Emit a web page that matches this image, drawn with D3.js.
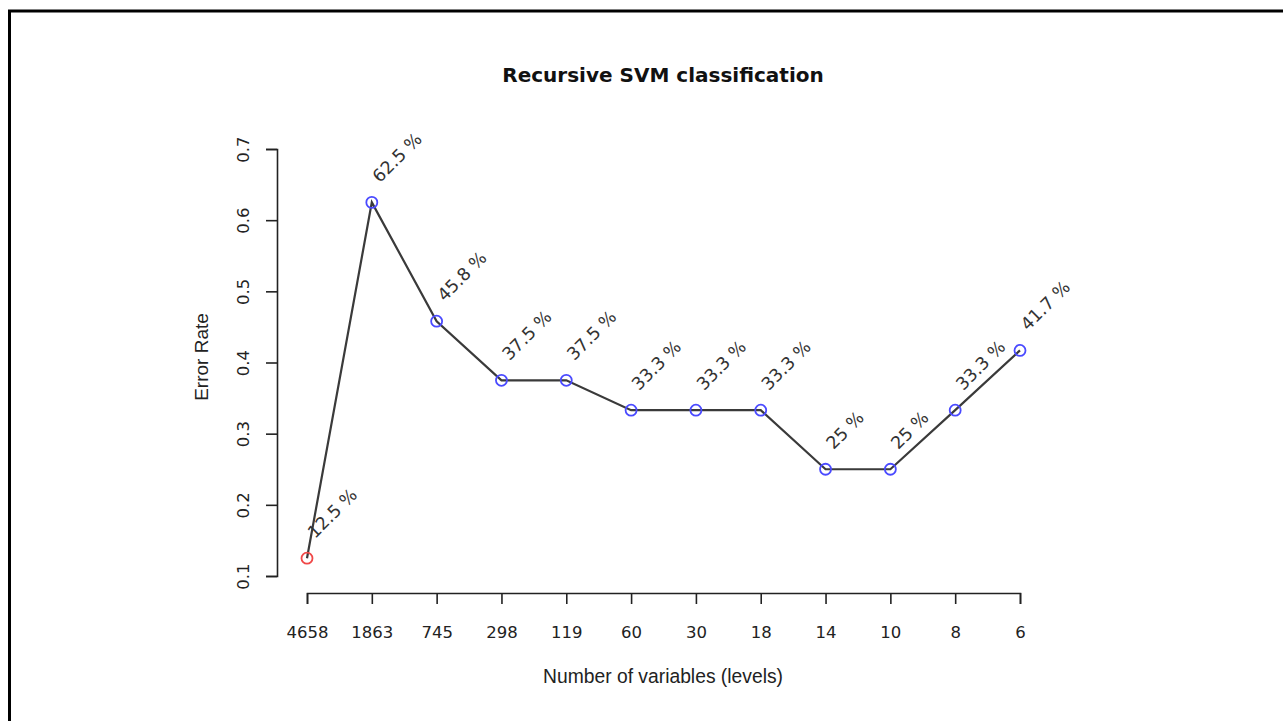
<!DOCTYPE html>
<html>
<head>
<meta charset="utf-8">
<script src="https://cdn.jsdelivr.net/npm/d3@7"></script>
<style>
  body { margin: 0; background: #fff; }
  .axis text { font-family: "DejaVu Sans", sans-serif; font-size: 16.5px; fill: #222; }
  .axis path, .axis line { stroke: #222; stroke-width: 1.6px; }
</style>
</head>
<body>
<div id="chart"></div>
<script>
// data
var levels = ["4658", "1863", "745", "298", "119", "60", "30", "18", "14", "10", "8", "6"];
var errorRate = [0.125, 0.625, 0.458, 0.375, 0.375, 0.333, 0.333, 0.333, 0.25, 0.25, 0.333, 0.417];
var pctLabels = ["12.5 %", "62.5 %", "45.8 %", "37.5 %", "37.5 %", "33.3 %", "33.3 %", "33.3 %", "25 %", "25 %", "33.3 %", "41.7 %"];
var yTicks = [0.1, 0.2, 0.3, 0.4, 0.5, 0.6, 0.7];

var width = 1283, height = 721;

var svg = d3.select("#chart").append("svg")
    .attr("width", width)
    .attr("height", height);

// the frame around the figure (cut off at right and bottom)
svg.append("path")
    .attr("d", "M9.5,721V11H1283")
    .attr("fill", "none")
    .attr("stroke", "#000")
    .attr("stroke-width", 3);

var x = d3.scalePoint()
    .domain(levels)
    .range([307, 1020]);

var y = d3.scaleLinear()
    .domain([0.1, 0.7])
    .range([576, 149]);

var data = levels.map(function(d, i) {
  return {level: d, value: errorRate[i], label: pctLabels[i], i: i};
});

// x axis
svg.append("g")
    .attr("class", "axis axis--x")
    .attr("transform", "translate(0,593)")
    .call(d3.axisBottom(x).tickSizeOuter(0).tickSize(11).tickPadding(22));

// y axis, labels parallel to the axis
var yAxis = svg.append("g")
    .attr("class", "axis axis--y")
    .attr("transform", "translate(277,0)")
    .call(d3.axisLeft(y).tickValues(yTicks).tickSizeOuter(0).tickSize(11).tickFormat(d3.format(".1f")));

yAxis.selectAll(".tick text")
    .attr("transform", "rotate(-90)")
    .attr("x", 0)
    .attr("y", -28)
    .attr("dy", "0")
    .attr("text-anchor", "middle");

// line
var line = d3.line()
    .x(function(d) { return x(d.level); })
    .y(function(d) { return y(d.value); });

svg.append("path")
    .datum(data)
    .attr("fill", "none")
    .attr("stroke", "#3a3a3a")
    .attr("stroke-width", 2.2)
    .attr("d", line);

// points
svg.selectAll(".pt")
    .data(data)
  .enter().append("circle")
    .attr("class", "pt")
    .attr("cx", function(d) { return x(d.level); })
    .attr("cy", function(d) { return y(d.value); })
    .attr("r", 5.5)
    .attr("fill", "none")
    .attr("stroke", function(d) { return d.i == 0 ? "#f04848" : "#4a4aff"; })
    .attr("stroke-width", 1.8);

// percentage labels, tilted
svg.selectAll(".pctLabel")
    .data(data)
  .enter().append("text")
    .attr("class", "pctLabel")
    .attr("transform", function(d) {
      return "translate(" + (x(d.level) + 8) + "," + (y(d.value) - 19) + ") rotate(-45)";
    })
    .style("font", "17.5px 'DejaVu Sans', sans-serif")
    .attr("fill", "#333")
    .text(function(d) { return d.label; });

// titles
svg.append("text")
    .attr("x", 663)
    .attr("y", 82)
    .attr("text-anchor", "middle")
    .style("font", "bold 20px 'DejaVu Sans', sans-serif")
    .attr("fill", "#111")
    .text("Recursive SVM classification");

svg.append("text")
    .attr("x", 663)
    .attr("y", 683)
    .attr("text-anchor", "middle")
    .style("font", "19.3px 'Liberation Sans', Arial, sans-serif")
    .attr("fill", "#222")
    .text("Number of variables (levels)");

svg.append("text")
    .attr("transform", "translate(208,357) rotate(-90)")
    .attr("text-anchor", "middle")
    .style("font", "19px 'Liberation Sans', Arial, sans-serif")
    .attr("fill", "#222")
    .text("Error Rate");
</script>
</body>
</html>
